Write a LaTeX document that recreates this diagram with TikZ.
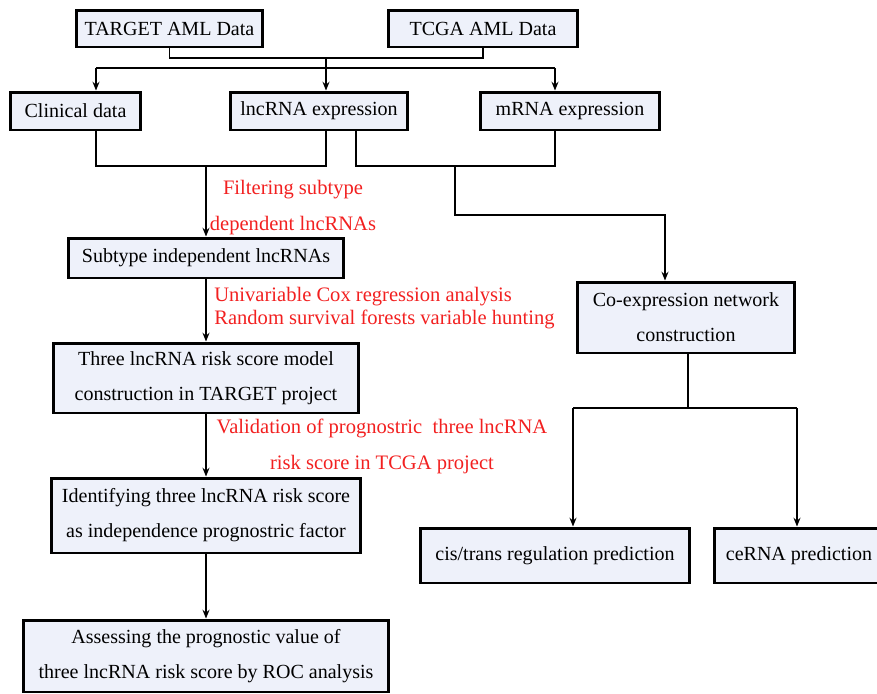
\documentclass[tikz,border=0pt]{standalone}
\usepackage{fontspec}
\setmainfont{Liberation Serif}
\usetikzlibrary{arrows.meta}
\definecolor{boxfill}{HTML}{EEF1FA}
\definecolor{notered}{HTML}{F22020}
\tikzset{
  stage/.style={draw, line width=1.7pt, fill=boxfill, align=center, inner sep=0pt,
    font=\fontsize{11.4}{20}\selectfont},
  flow/.style={line width=0.8pt},
  flowarr/.style={flow, -{Stealth[length=5pt,width=4pt]}},
  note/.style={text=notered, inner sep=0pt, font=\fontsize{11.7}{20}\selectfont}
}
\begin{document}
\begin{tikzpicture}[x=0.02cm, y=-0.02cm]
  \useasboundingbox (0,0) rectangle (877,694);
  \clip (0,0) rectangle (877,694);
  \node[stage, minimum width=3.74cm, minimum height=0.74cm] (target) at (169.5,28.5) {TARGET AML Data};
  \node[stage, minimum width=3.80cm, minimum height=0.74cm] (tcga) at (483,28.5) {TCGA AML Data};
  \node[stage, minimum width=2.62cm, minimum height=0.76cm] (clin) at (75.5,111) {Clinical data};
  \node[stage, minimum width=3.56cm, minimum height=0.76cm] (lnc) at (319,111) {lncRNA expression};
  \node[stage, minimum width=3.60cm, minimum height=0.76cm] (mrna) at (570,111) {mRNA expression};
  \node[stage, minimum width=5.50cm, minimum height=0.80cm] (sub) at (206,258) {Subtype independent lncRNAs};
  \node[stage, minimum width=6.12cm, minimum height=1.40cm] (three) at (206,378) {Three lncRNA risk score model\\construction in TARGET project};
  \node[stage, minimum width=6.18cm, minimum height=1.50cm] (ident) at (206,515.5) {Identifying three lncRNA risk score\\as independence prognostric factor};
  \node[stage, minimum width=7.30cm, minimum height=1.44cm] (assess) at (206,656) {Assessing the prognostic value of\\three lncRNA risk score by ROC analysis};
  \node[stage, minimum width=4.36cm, minimum height=1.42cm] (coexp) at (686,317.5) {Co-expression network\\construction};
  \node[stage, minimum width=5.40cm, minimum height=1.10cm] (cis) at (555,555.5) {cis/trans regulation prediction};
  \node[stage, minimum width=3.40cm, minimum height=1.10cm] (cerna) at (799,555.5) {ceRNA prediction};

  \node[note, align=center] (n1) at (293,207.5) {Filtering subtype\\dependent lncRNAs};
  \node[note, align=left, anchor=west, font=\fontsize{11.7}{13}\selectfont] (n2) at (214,308.5) {Univariable Cox regression analysis\\Random survival forests variable hunting};
  \node[note, align=center] (n3) at (382,446.5) {Validation of prognostric~ three lncRNA\\risk score in TCGA project};

  \coordinate (jtop) at (326,58);
  \coordinate (jmid) at (326,68);
  \coordinate (a1) at (96,68);
  \coordinate (a3) at (555,68);
  \draw[flow] (target.south) |- (jtop) -| (tcga.south);
  \draw[flow] (jtop) -- (jmid);
  \draw[flow] (a1) -- (a3);
  \draw[flowarr] (a1) -- (a1 |- clin.north);
  \draw[flowarr] (jmid) -- (jmid |- lnc.north);
  \draw[flowarr] (a3) -- (a3 |- mrna.north);

  \coordinate (b1) at (96,166);
  \coordinate (b2) at (326,166);
  \coordinate (b3) at (356,166);
  \coordinate (b4) at (555,166);
  \coordinate (b5) at (455,166);
  \coordinate (b6) at (455,215);
  \coordinate (b7) at (665,215);
  \draw[flow] (b1 |- clin.south) -- (b1) -- (b2) -- (b2 |- lnc.south);
  \draw[flowarr] (sub.north |- b1) -- (sub.north);
  \draw[flow] (b3 |- lnc.south) -- (b3) -- (b4) -- (b4 |- mrna.south);
  \draw[flowarr] (b5) -- (b6) -- (b7) -- (b7 |- coexp.north);

  \draw[flowarr] (sub.south) -- (three.north);
  \draw[flowarr] (three.south) -- (ident.north);
  \draw[flowarr] (ident.south) -- (assess.north);

  \coordinate (d0) at (688,408);
  \coordinate (d1) at (573,408);
  \coordinate (d2) at (797,408);
  \draw[flow] (coexp.south -| d0) -- (d0);
  \draw[flow] (d1) -- (d2);
  \draw[flowarr] (d1) -- (d1 |- cis.north);
  \draw[flowarr] (d2) -- (d2 |- cerna.north);
\end{tikzpicture}
\end{document}
